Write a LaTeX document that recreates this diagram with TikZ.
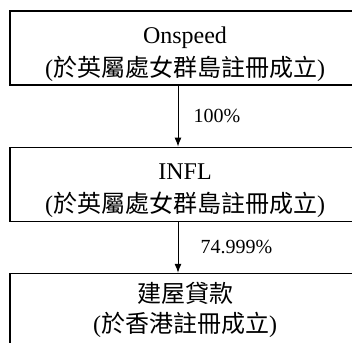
\documentclass[tikz,border=0pt]{standalone}
\usepackage{fontspec}
\setmainfont{Liberation Serif}
\newfontfamily\cjk{Noto Sans CJK TC}
\usetikzlibrary{positioning,arrows.meta}

\begin{document}
\begin{tikzpicture}[x=1pt,y=-1pt,
		entity/.style={draw, line width=1.2pt, minimum width=350pt, minimum height=74pt,
			inner sep=0pt, align=center, font=\fontsize{24}{33}\selectfont},
		feed/.style={line width=1pt, -{Latex[length=9pt,width=7pt]}},
		pct/.style={inner sep=0pt, font=\fontsize{20}{24}\selectfont}]
		\useasboundingbox (0,0) rectangle (352,342);
		\node[entity] (onspeed) at (185,48) {\rule{0pt}{29pt}Onspeed\\({\cjk 於英屬處女群島註冊成立})};
		\node[entity] (infl) [below=61pt of onspeed] {\rule{0pt}{29pt}INFL\\({\cjk 於英屬處女群島註冊成立})};
		\node[entity] (loan) [below=51pt of infl, font=\fontsize{24}{30}\selectfont] {{\cjk 建屋貸款}\\({\cjk 於香港註冊成立})};
		\draw[feed] ([xshift=-7pt]onspeed.south) -- node[pct, right=15pt] (share1) {100\%} ([xshift=-7pt]infl.north);
		\draw[feed] ([xshift=-7pt]infl.south) -- node[pct, right=22pt] (share2) {74.999\%} ([xshift=-7pt]loan.north);
\end{tikzpicture}
\end{document}
